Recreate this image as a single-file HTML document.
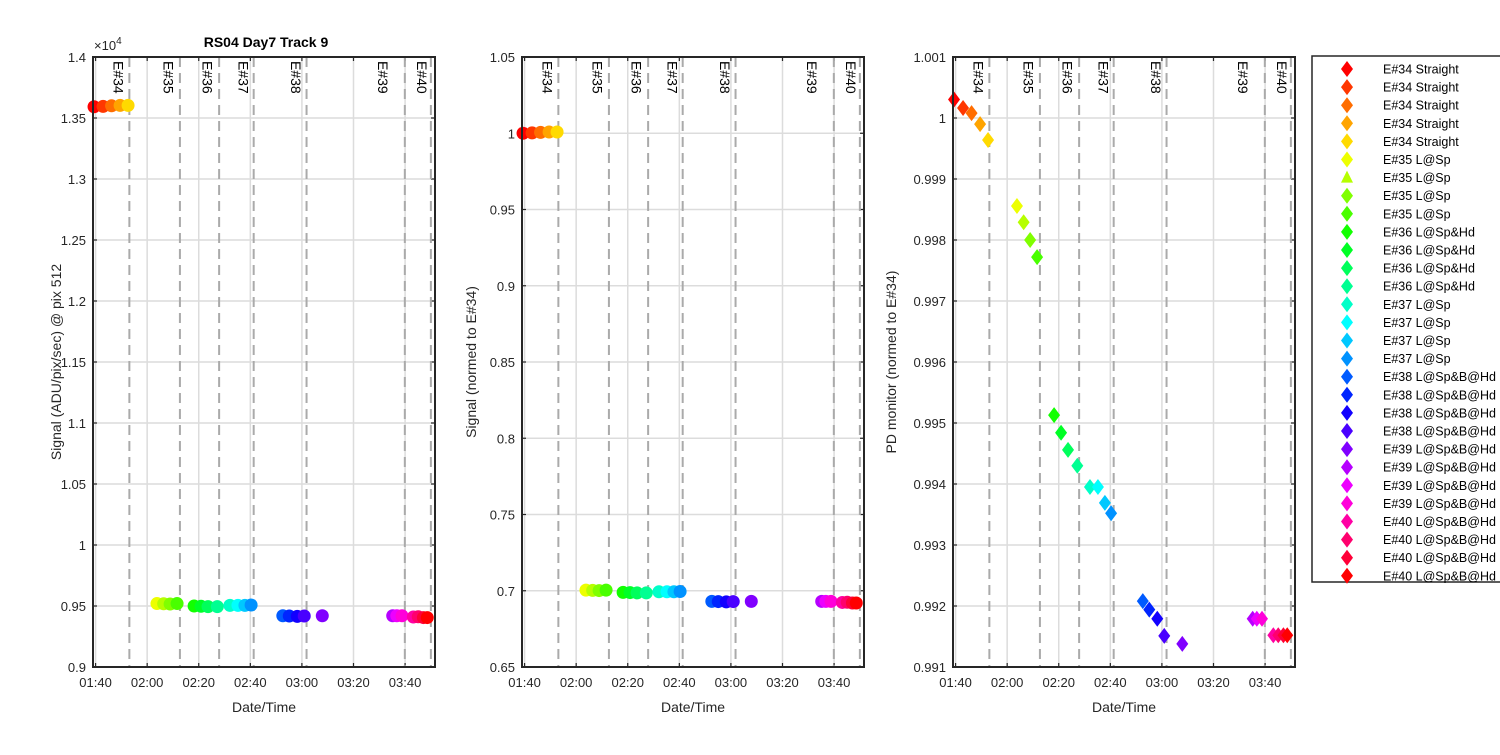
<!DOCTYPE html>
<html><head><meta charset="utf-8"><style>
body{margin:0;background:#fff;font-family:"Liberation Sans",sans-serif}
svg text{font-family:"Liberation Sans",sans-serif}
</style></head><body>
<svg id="fig" width="1500" height="750" viewBox="0 0 1500 750" xmlns="http://www.w3.org/2000/svg"></svg>
<script>
const NS="http://www.w3.org/2000/svg";
// ---- data (minutes after 01:40) ----
const times=[-0.6,2.9,6.2,9.5,12.6, 23.8,26.4,28.9,31.6, 38.2,40.9,43.6,47.2, 52.1,55.2,57.9,60.3, 72.6,75.1,78.2,80.9, 87.9,115.2,116.8,118.8, 123.2,125.1,127.1,128.6];
const signal=[1.3592,1.3595,1.3600,1.3603,1.3603, 0.9520,0.9518,0.9516,0.9520, 0.9500,0.9498,0.9495,0.9495, 0.9505,0.9505,0.9505,0.9508, 0.9420,0.9418,0.9415,0.9418, 0.9420,0.9420,0.9420,0.9420, 0.9410,0.9412,0.9405,0.9405];
const pdMonitor=[1.000303,1.000164,1.00008,0.99990,0.99964, 0.998557,0.99829,0.99800,0.99772, 0.99513,0.99484,0.99456,0.9943, 0.99395,0.99395,0.99369,0.99352, 0.99208,0.99194,0.99179,0.99151, 0.99138,0.99179,0.99179,0.99179, 0.99152,0.99152,0.99152,0.99152];
const legendLabels=["E#34 Straight","E#34 Straight","E#34 Straight","E#34 Straight","E#34 Straight","E#35 L@Sp","E#35 L@Sp","E#35 L@Sp","E#35 L@Sp","E#36 L@Sp&Hd","E#36 L@Sp&Hd","E#36 L@Sp&Hd","E#36 L@Sp&Hd","E#37 L@Sp","E#37 L@Sp","E#37 L@Sp","E#37 L@Sp","E#38 L@Sp&B@Hd","E#38 L@Sp&B@Hd","E#38 L@Sp&B@Hd","E#38 L@Sp&B@Hd","E#39 L@Sp&B@Hd","E#39 L@Sp&B@Hd","E#39 L@Sp&B@Hd","E#39 L@Sp&B@Hd","E#40 L@Sp&B@Hd","E#40 L@Sp&B@Hd","E#40 L@Sp&B@Hd","E#40 L@Sp&B@Hd"];
const expNames=["E#34","E#35","E#36","E#37","E#38","E#39","E#40"];
const expLabelTimes=[8.3,27.7,42.8,56.8,77.3,111,126.1];
const expBoundaries=[13.1,32.7,47.9,61.3,81.8,119.9,130.0];
const xTickLabels=["01:40","02:00","02:20","02:40","03:00","03:20","03:40"];
const xTickVals=[0,20,40,60,80,100,120];
const y1Ticks=[0.9,0.95,1,1.05,1.1,1.15,1.2,1.25,1.3,1.35,1.4];
const y2Ticks=[0.65,0.7,0.75,0.8,0.85,0.9,0.95,1,1.05];
const y3Ticks=[0.991,0.992,0.993,0.994,0.995,0.996,0.997,0.998,0.999,1,1.001];

const svg=document.getElementById('fig');
function el(tag,attrs,parent){const e=document.createElementNS(NS,tag);for(const k in attrs)e.setAttribute(k,attrs[k]);(parent||svg).appendChild(e);return e;}
function color(i){return `hsl(${(360*i/28).toFixed(1)},100%,50%)`;}
const TOP=57,BOT=667,T0=-1,T1=131.6;

function panel(name,left,ymin,ymax,yticks,vals,marker,ylabel,ylabelX){
  const right=left+342;
  const g=el('g',{});
  
  
  const xs=t=>left+(t-T0)/(T1-T0)*(right-left);
  const ys=v=>BOT-(v-ymin)/(ymax-ymin)*(BOT-TOP);
  // grid
  xTickVals.forEach((t,i)=>{
    const gl=el('line',{x1:xs(t),x2:xs(t),y1:TOP,y2:BOT,stroke:'#dcdcdc','stroke-width':1.5},g);
    
    const tk=el('text',{x:xs(t),y:BOT+20,'font-size':13,'text-anchor':'middle',fill:'#262626'},g);
    tk.textContent=xTickLabels[i];
    
    el('line',{x1:xs(t),x2:xs(t),y1:BOT,y2:BOT-4,stroke:'#262626','stroke-width':1.2},g);
    el('line',{x1:xs(t),x2:xs(t),y1:TOP,y2:TOP+4,stroke:'#262626','stroke-width':1.2},g);
  });
  yticks.forEach(v=>{
    const gl=el('line',{x1:left,x2:right,y1:ys(v),y2:ys(v),stroke:'#dcdcdc','stroke-width':1.5},g);
    
    const tk=el('text',{x:left-7,y:ys(v)+5,'font-size':13,'text-anchor':'end',fill:'#262626'},g);
    tk.textContent=String(v);
    
    el('line',{x1:left,x2:left+4,y1:ys(v),y2:ys(v),stroke:'#262626','stroke-width':1.2},g);
    el('line',{x1:right,x2:right-4,y1:ys(v),y2:ys(v),stroke:'#262626','stroke-width':1.2},g);
  });
  // dashed boundaries
  expBoundaries.forEach(t=>{
    const d=el('line',{x1:xs(t),x2:xs(t),y1:TOP,y2:BOT,stroke:'#aaaaaa','stroke-width':2,'stroke-dasharray':'10,6'},g);
    
  });
  // exp labels
  expNames.forEach((n,i)=>{
    const x=xs(expLabelTimes[i]);
    const t=el('text',{x:x,y:TOP+4,'font-size':14,fill:'#000',transform:`rotate(90 ${x} ${TOP+4})`,'dominant-baseline':'middle'},g);
    t.textContent=n;
    
  });
  // markers
  vals.forEach((v,i)=>{
    const x=xs(times[i]),y=ys(v);
    let m;
    if(marker==='circle') m=el('circle',{cx:x,cy:y,r:6.5,fill:color(i)},g);
    else m=el('polygon',{points:`${x},${y-8} ${x+6},${y} ${x},${y+8} ${x-6},${y}`,fill:color(i)},g);
    
  });
  const box=el('rect',{x:left,y:TOP,width:right-left,height:BOT-TOP,fill:'none',stroke:'#262626','stroke-width':2},g);
  
  const xl=el('text',{x:(left+right)/2,y:712,'font-size':14,'text-anchor':'middle',fill:'#262626'},g);
  xl.textContent='Date/Time';
  
  const yl=el('text',{x:ylabelX,y:(TOP+BOT)/2,'font-size':14,'text-anchor':'middle',fill:'#262626',transform:`rotate(-90 ${ylabelX} ${(TOP+BOT)/2})`},g);
  yl.textContent=ylabel;
  
}
const norm=signal.map(v=>v/signal[0]);
panel('signal-panel',93,0.9,1.4,y1Ticks,signal,'circle','Signal (ADU/pix/sec) @ pix 512',61);
panel('normalized-signal-panel',522,0.65,1.05,y2Ticks,norm,'circle','Signal (normed to E#34)',476);
panel('pd-monitor-panel',953,0.991,1.001,y3Ticks,pdMonitor,'diamond','PD monitor (normed to E#34)',896);

const title=el('text',{x:266,y:47,'font-size':14,'font-weight':'bold','text-anchor':'middle',fill:'#000'});
title.textContent='RS04 Day7 Track 9';

const exp=el('text',{x:94,y:50,'font-size':13,fill:'#262626'});
exp.innerHTML='×10<tspan dy="-6" font-size="10">4</tspan>';


// legend
const lg=el('g',{});

el('rect',{x:1312,y:56,width:200,height:526,fill:'#fff',stroke:'#262626','stroke-width':1.5},lg);
legendLabels.forEach((lab,i)=>{
  const y=69+i*18.1,x=1347;
  let m;
  if(i===6) m=el('polygon',{points:`${x},${y-7} ${x+6},${y+5} ${x-6},${y+5}`,fill:color(i)},lg);
  else m=el('polygon',{points:`${x},${y-8} ${x+6},${y} ${x},${y+8} ${x-6},${y}`,fill:color(i)},lg);
  
  const t=el('text',{x:1383,y:y+4.5,'font-size':12.5,fill:'#000'},lg);
  t.textContent=lab;
  
});
</script>
</body></html>
